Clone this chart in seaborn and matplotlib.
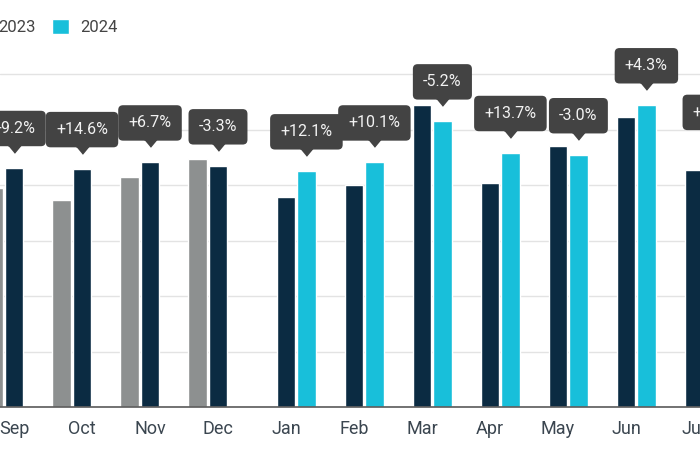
import numpy as np
import pandas as pd
import matplotlib
matplotlib.use("Agg")
import matplotlib.pyplot as plt
import seaborn as sns

months = ["Sep", "Oct", "Nov", "Dec", "Jan", "Feb", "Mar", "Apr", "May", "Jun", "Jul"]
years = ["2022", "2023", "2024"]
vals_2022 = [3.95, 3.73, 4.14, 4.47, None, None, None, None, None, None, None]
vals_2023 = [4.31, 4.29, 4.41, 4.34, 3.78, 4.00, 5.44, 4.04, 4.70, 5.23, 4.27]
vals_2024 = [None, None, None, None, 4.25, 4.41, 5.15, 4.58, 4.54, 5.44, 4.60]
change_labels = ["+9.2%", "+14.6%", "+6.7%", "-3.3%", "+12.1%", "+10.1%",
                 "-5.2%", "+13.7%", "-3.0%", "+4.3%", "+7.7%"]
# which year's bar carries the change label for each month
label_year = ["2023", "2023", "2023", "2023", "2024", "2024",
              "2024", "2024", "2024", "2024", "2024"]

colors = {"2022": "#8d9090", "2023": "#0b2b42", "2024": "#18bfda"}

rows = []
for yr, vals in zip(years, [vals_2022, vals_2023, vals_2024]):
    for m, v in zip(months, vals):
        if v is not None:
            rows.append({"month": m, "year": yr, "value": v})
df = pd.DataFrame(rows)

sns.set_theme(style="whitegrid")
plt.rcParams["font.family"] = ["Roboto", "DejaVu Sans"]

W, H = 700, 450
fig = plt.figure(figsize=(7, 4.5), dpi=100)
px_per_unit = 55.5
base_px = 407
ytop = 6.95
x0_px = 14
step_px = 68
ax = fig.add_axes([0, (H - base_px) / H, 1, (ytop * px_per_unit) / H])

sns.barplot(data=df, x="month", y="value", hue="year", order=months,
            hue_order=years, palette=colors, width=0.9, gap=0.1,
            saturation=1, ax=ax, errorbar=None)

ax.set_xlim(-x0_px / step_px, (W - x0_px) / step_px)
ax.set_ylim(0, ytop)
ax.set_yticks(range(0, 7))
ax.set_yticklabels([])
ax.tick_params(axis="y", length=0)
ax.tick_params(axis="x", length=0, pad=9, labelsize=13, labelcolor="#3b4650")
ax.set_xlabel("")
ax.set_ylabel("")
ax.grid(axis="x", visible=False)
ax.grid(axis="y", color="#e3e3e3", linewidth=1)
for s in ["left", "right", "top"]:
    ax.spines[s].set_visible(False)
ax.spines["bottom"].set_color("#5a5a5a")
ax.spines["bottom"].set_linewidth(1.2)
ax.set_axisbelow(True)

# annotations above the labelled bar of each month
bar_lookup = {}
for yr, cont in zip(years, ax.containers):
    for bar in cont:
        cx = bar.get_x() + bar.get_width() / 2
        mi = int(round(cx))
        bar_lookup[(yr, mi)] = (cx, bar.get_height())

tri = [(-1, 0.6), (1, 0.6), (0, -0.6)]
box_col = "#434343"
for mi, (lab, yr) in enumerate(zip(change_labels, label_year)):
    if (yr, mi) not in bar_lookup:
        continue
    cx, h = bar_lookup[(yr, mi)]
    ax.annotate(lab, xy=(cx, h), xytext=(0, 28.3), textcoords="offset points",
                ha="center", va="center", fontsize=11.5, color="#f2f2f2",
                annotation_clip=False,
                bbox=dict(boxstyle="round,pad=0.64,rounding_size=0.3",
                          fc=box_col, ec="none"))
    ax.plot([cx], [h], marker=tri, markersize=9, color=box_col,
            transform=ax.transData + matplotlib.transforms.ScaledTranslation(
                0, 13.5 / 72, fig.dpi_scale_trans),
            clip_on=False)

sns.move_legend(ax, "center right", bbox_to_anchor=(118 / W, 1 - 27 / H),
                bbox_transform=fig.transFigure, ncol=3, frameon=False,
                title=None, handlelength=1.0, handleheight=1.0,
                handletextpad=0.7, columnspacing=1.0, fontsize=12,
                borderpad=0, borderaxespad=0)
for t in ax.get_legend().get_texts():
    t.set_color("#444444")

fig.savefig("out.png", dpi=100)
